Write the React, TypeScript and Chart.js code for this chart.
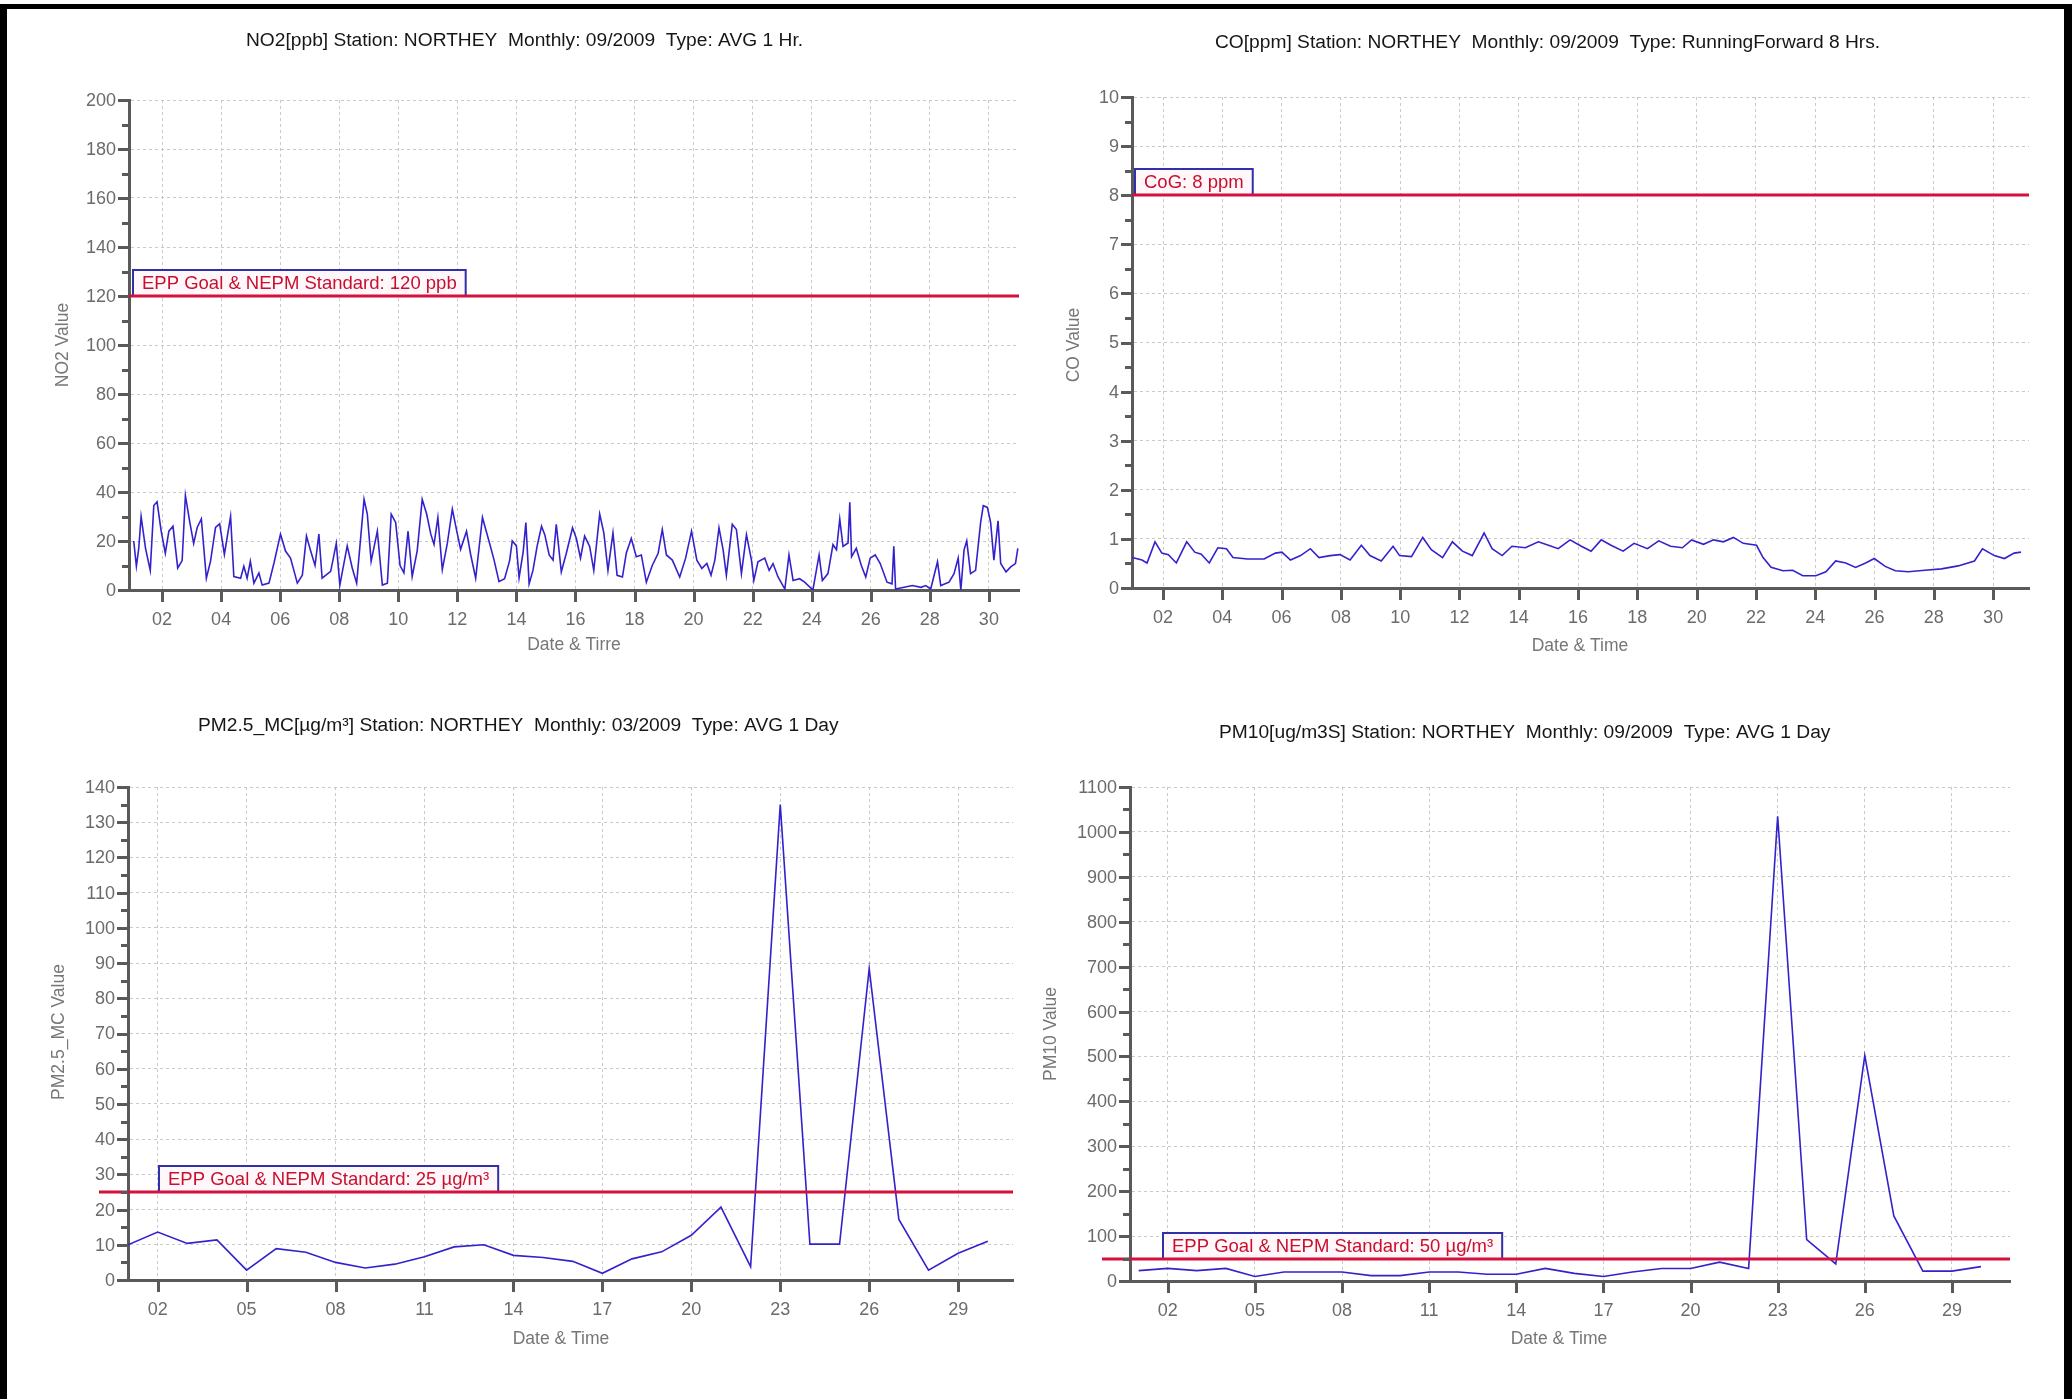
import React, { useEffect, useRef } from "react";
import { Chart, registerables } from "chart.js";

Chart.register(...registerables);

const W = 2072;
const H = 1399;

// ---------------- DATA ----------------
// NO2 hourly-ish trace, [day of month, ppb]
const no2Series: [number, number][] = [
  [1.04, 20], [1.13, 9.7], [1.21, 17], [1.29, 30], [1.44, 17], [1.6, 8], [1.72, 34.5], [1.83, 36], [1.97, 24],
  [2.11, 15], [2.23, 24], [2.37, 26], [2.53, 9], [2.68, 12], [2.79, 38.6], [2.94, 27.6], [3.07, 19], [3.19, 25.5],
  [3.33, 29], [3.5, 4.8], [3.64, 11.7], [3.81, 25.5], [3.95, 27], [4.11, 14.5], [4.32, 30], [4.43, 5.5], [4.66, 4.8],
  [4.77, 9.7], [4.88, 4.8], [4.99, 11.7], [5.11, 2.8], [5.28, 6.9], [5.39, 2], [5.62, 2.8], [5.79, 11], [6.01, 22.8],
  [6.18, 15.9], [6.35, 13], [6.58, 2.8], [6.75, 6], [6.89, 22], [7.03, 16], [7.18, 10], [7.31, 22.8], [7.42, 4.8],
  [7.71, 7.6], [7.9, 19], [8.02, 2], [8.27, 18], [8.44, 9], [8.59, 2.8], [8.84, 37], [8.95, 31], [9.08, 11.7],
  [9.29, 24], [9.46, 2], [9.63, 2.8], [9.76, 31], [9.91, 27.6], [10.06, 10], [10.19, 7], [10.33, 24], [10.47, 5.5],
  [10.64, 16], [10.81, 37], [10.96, 31], [11.1, 22.8], [11.21, 18.6], [11.34, 29.6], [11.49, 8.3], [11.66, 19],
  [11.83, 33], [11.98, 24], [12.11, 16.6], [12.31, 24], [12.45, 14.5], [12.62, 4.8], [12.85, 29.6], [13.07, 20],
  [13.24, 12.4], [13.41, 3.4], [13.6, 4.6], [13.77, 12], [13.86, 20], [14.0, 18], [14.09, 5], [14.23, 15.7],
  [14.32, 27.5], [14.43, 2.5], [14.56, 8], [14.7, 17.8], [14.85, 26], [14.96, 22.6], [15.11, 14.3], [15.24, 12.2],
  [15.35, 26.8], [15.52, 7.4], [15.69, 15], [15.9, 25.4], [16.03, 21], [16.17, 13], [16.31, 22], [16.48, 17.8],
  [16.62, 8], [16.82, 31], [16.96, 23.3], [17.1, 8], [17.27, 23.3], [17.41, 6], [17.59, 5.3], [17.72, 15],
  [17.89, 21], [18.06, 13.6], [18.23, 14.3], [18.4, 3.2], [18.6, 10], [18.8, 15], [18.94, 24.7], [19.08, 14.3],
  [19.28, 12.2], [19.53, 5.3], [19.73, 13], [19.93, 24], [20.11, 12.2], [20.28, 8.8], [20.45, 10.8], [20.59, 6],
  [20.72, 12.2], [20.86, 25.4], [21.0, 16.4], [21.11, 6], [21.31, 26.8], [21.45, 24.7], [21.62, 6.7], [21.79, 22.6],
  [21.96, 12.2], [22.04, 3.9], [22.18, 11.5], [22.41, 13], [22.56, 8], [22.69, 10.8], [22.86, 5.3], [23.09, 0.4],
  [23.23, 14.3], [23.37, 3.9], [23.59, 4.6], [23.76, 3.2], [24.04, 0], [24.25, 14.3], [24.36, 3.9], [24.55, 6.7],
  [24.72, 18.5], [24.84, 16.4], [24.95, 28.9], [25.06, 17.8], [25.23, 19.2], [25.29, 35.8], [25.35, 13.6],
  [25.51, 17], [25.68, 10], [25.83, 5.3], [25.98, 13], [26.15, 14.3], [26.32, 10.8], [26.55, 3.2], [26.72, 2.5],
  [26.78, 17.8], [26.84, 0.4], [27.13, 1.1], [27.41, 1.8], [27.7, 1.1], [27.86, 1.8], [28.03, 0.4], [28.26, 11.5],
  [28.37, 1.8], [28.65, 3.2], [28.82, 6.7], [28.96, 13], [29.05, 0], [29.16, 16.4], [29.25, 20], [29.38, 6.7],
  [29.55, 8], [29.72, 27.5], [29.81, 34.4], [29.95, 33.7], [30.06, 27.5], [30.17, 12.2], [30.31, 28.2], [30.4, 10.8],
  [30.58, 7.4], [30.74, 9.4], [30.9, 10.8], [30.98, 17],
];

// CO running 8 hr trace, [day of month, ppm]
const coSeries: [number, number][] = [
  [0.96, 0.62], [1.29, 0.57], [1.46, 0.51], [1.73, 0.94], [1.96, 0.71], [2.18, 0.68], [2.45, 0.51], [2.8, 0.94],
  [3.07, 0.73], [3.29, 0.69], [3.56, 0.51], [3.85, 0.82], [4.14, 0.8], [4.36, 0.62], [4.85, 0.59], [5.41, 0.59],
  [5.79, 0.71], [6.01, 0.73], [6.3, 0.57], [6.64, 0.66], [6.97, 0.8], [7.26, 0.62], [7.64, 0.66], [7.97, 0.68],
  [8.31, 0.57], [8.69, 0.87], [8.98, 0.66], [9.36, 0.55], [9.76, 0.85], [9.98, 0.66], [10.38, 0.64], [10.76, 1.03],
  [11.05, 0.78], [11.43, 0.62], [11.76, 0.94], [12.1, 0.75], [12.43, 0.66], [12.83, 1.12], [13.1, 0.8], [13.44, 0.66],
  [13.77, 0.85], [14.22, 0.82], [14.66, 0.94], [15.0, 0.87], [15.33, 0.8], [15.73, 0.98], [16.11, 0.85], [16.44, 0.75],
  [16.78, 0.98], [17.11, 0.87], [17.52, 0.75], [17.89, 0.91], [18.34, 0.8], [18.72, 0.96], [19.12, 0.85],
  [19.52, 0.82], [19.83, 0.98], [20.23, 0.89], [20.57, 0.98], [20.9, 0.94], [21.24, 1.03], [21.57, 0.91],
  [22.02, 0.87], [22.24, 0.62], [22.51, 0.42], [22.91, 0.35], [23.24, 0.36], [23.58, 0.25], [24.02, 0.25],
  [24.36, 0.33], [24.69, 0.55], [25.03, 0.51], [25.36, 0.42], [25.7, 0.51], [25.99, 0.6], [26.36, 0.44], [26.7, 0.35],
  [27.14, 0.33], [27.7, 0.36], [28.26, 0.39], [28.82, 0.45], [29.37, 0.55], [29.64, 0.8], [30.04, 0.66],
  [30.38, 0.6], [30.71, 0.71], [30.94, 0.73],
];

// Daily series
const pmDays = [1, 2, 3, 4, 5, 6, 7, 8, 9, 10, 11, 12, 13, 14, 15, 16, 17, 18, 19, 20, 21, 22, 23, 24, 25, 26, 27, 28, 29, 30];
const pm25Values = [10, 13.6, 10.4, 11.4, 2.8, 8.9, 7.9, 5, 3.4, 4.5, 6.6, 9.4, 10, 7, 6.4, 5.3, 1.9, 6, 8, 12.7, 20.7, 3.8, 135, 10.2, 10.2, 88.4, 17.2, 2.8, 7.6, 11];
const pm10Values = [23, 28, 23, 28, 10, 20, 20, 20, 12, 12, 20, 20, 15, 15, 28, 17, 10, 20, 28, 28, 42, 28, 1035, 92, 38, 502, 145, 22, 22, 32];

// Ticks
const xTicksEven = [2, 4, 6, 8, 10, 12, 14, 16, 18, 20, 22, 24, 26, 28, 30];
const xTicksEvery3 = [2, 5, 8, 11, 14, 17, 20, 23, 26, 29];
const no2YTicks = [0, 20, 40, 60, 80, 100, 120, 140, 160, 180, 200];
const coYTicks = [0, 1, 2, 3, 4, 5, 6, 7, 8, 9, 10];
const pm25YTicks = [0, 10, 20, 30, 40, 50, 60, 70, 80, 90, 100, 110, 120, 130, 140];
const pm10YTicks = [0, 100, 200, 300, 400, 500, 600, 700, 800, 900, 1000, 1100];

// Standards
const no2Limit = 120;
const coLimit = 8;
const pm25Limit = 25;
const pm10Limit = 50;

// ---------------- STYLE ----------------
const FONT = "'Liberation Sans', Arial, sans-serif";
const AXIS = "#5a5a5a";
const GRID = "#c9c9c9";
const LINE = "#3322cc";
const RED = "#d4103c";
const RED_TEXT = "#c8102e";
const BOX = "#3030a8";

type Panel = {
  key: string;
  title: string; titleX: number; titleY: number;
  yTitle: string; yTitleX: number; yTitleY: number;
  xTitle: string; xTitleX: number; xTitleY: number;
  area: { l: number; t: number; r: number; b: number };
  xMin: number; xMax: number; yMin: number; yMax: number;
  xTicks: number[]; yTicks: number[]; yMinor: number;
  points: { x: number; y: number }[];
  limit: number; limitLabel: string; boxLeft: number; lineLeft?: number;
};

const panels: Panel[] = [
  {
    key: "no2",
    title: "NO2[ppb] Station: NORTHEY  Monthly: 09/2009  Type: AVG 1 Hr.", titleX: 246, titleY: 41,
    yTitle: "NO2 Value", yTitleX: 63, yTitleY: 345,
    xTitle: "Date & Tirre", xTitleX: 574, xTitleY: 645,
    area: { l: 129, t: 100, r: 1019, b: 590 },
    xMin: 0.88, xMax: 31.02, yMin: 0, yMax: 200,
    xTicks: xTicksEven, yTicks: no2YTicks, yMinor: 10,
    points: no2Series.map(([x, y]) => ({ x, y })),
    limit: no2Limit, limitLabel: "EPP Goal & NEPM Standard: 120 ppb", boxLeft: 132,
  },
  {
    key: "co",
    title: "CO[ppm] Station: NORTHEY  Monthly: 09/2009  Type: RunningForward 8 Hrs.", titleX: 1215, titleY: 43,
    yTitle: "CO Value", yTitleX: 1074, yTitleY: 345,
    xTitle: "Date & Time", xTitleX: 1580, xTitleY: 646,
    area: { l: 1132, t: 97, r: 2029, b: 588 },
    xMin: 0.954, xMax: 31.21, yMin: 0, yMax: 10,
    xTicks: xTicksEven, yTicks: coYTicks, yMinor: 0.5,
    points: coSeries.map(([x, y]) => ({ x, y })),
    limit: coLimit, limitLabel: "CoG: 8 ppm", boxLeft: 1134,
  },
  {
    key: "pm25",
    title: "PM2.5_MC[µg/m³] Station: NORTHEY  Monthly: 03/2009  Type: AVG 1 Day", titleX: 198, titleY: 726,
    yTitle: "PM2.5_MC Value", yTitleX: 59, yTitleY: 1032,
    xTitle: "Date & Time", xTitleX: 561, xTitleY: 1339,
    area: { l: 128, t: 787, r: 1013, b: 1280 },
    xMin: 1.0, xMax: 30.85, yMin: 0, yMax: 140,
    xTicks: xTicksEvery3, yTicks: pm25YTicks, yMinor: 5,
    points: pmDays.map((d, i) => ({ x: d, y: pm25Values[i] })),
    limit: pm25Limit, limitLabel: "EPP Goal & NEPM Standard: 25 µg/m³", boxLeft: 158, lineLeft: 99,
  },
  {
    key: "pm10",
    title: "PM10[ug/m3S] Station: NORTHEY  Monthly: 09/2009  Type: AVG 1 Day", titleX: 1219, titleY: 733,
    yTitle: "PM10 Value", yTitleX: 1051, yTitleY: 1034,
    xTitle: "Date & Time", xTitleX: 1559, xTitleY: 1339,
    area: { l: 1130, t: 787, r: 2010, b: 1281 },
    xMin: 0.7, xMax: 31.0, yMin: 0, yMax: 1100,
    xTicks: xTicksEvery3, yTicks: pm10YTicks, yMinor: 50,
    points: pmDays.map((d, i) => ({ x: d, y: pm10Values[i] })),
    limit: pm10Limit, limitLabel: "EPP Goal & NEPM Standard: 50 µg/m³", boxLeft: 1162, lineLeft: 1102,
  },
];

function makePlugin(p: Panel) {
  return {
    id: "panel_" + p.key,
    afterDatasetsDraw(chart: any) {
      const ctx: CanvasRenderingContext2D = chart.ctx;
      const ys = chart.scales.y;
      const a = chart.chartArea;
      const ly = Math.round(ys.getPixelForValue(p.limit));
      ctx.save();
      ctx.font = `18.5px ${FONT}`;
      const tw = ctx.measureText(p.limitLabel).width;
      const bh = 27;
      const bw = tw + 20;
      const bx = p.boxLeft;
      const by = ly - bh;
      ctx.fillStyle = "#fff7fa";
      ctx.fillRect(bx, by, bw, bh);
      ctx.strokeStyle = BOX;
      ctx.lineWidth = 2;
      ctx.strokeRect(bx + 1, by + 1, bw - 2, bh - 1);
      ctx.fillStyle = RED_TEXT;
      ctx.textAlign = "left";
      ctx.textBaseline = "middle";
      ctx.fillText(p.limitLabel, bx + 10, by + bh / 2 + 1);
      ctx.strokeStyle = RED;
      ctx.lineWidth = 3;
      ctx.beginPath();
      ctx.moveTo(p.lineLeft ?? a.left, ly);
      ctx.lineTo(a.right, ly);
      ctx.stroke();
      ctx.restore();
    },
    afterDraw(chart: any) {
      const ctx: CanvasRenderingContext2D = chart.ctx;
      const xs = chart.scales.x;
      const ys = chart.scales.y;
      const a = chart.chartArea;
      ctx.save();
      // y ticks (major + minor)
      ctx.strokeStyle = AXIS;
      ctx.lineWidth = 3;
      const nMinor = Math.round((p.yMax - p.yMin) / p.yMinor);
      for (let i = 0; i <= nMinor; i++) {
        const v = p.yMin + i * p.yMinor;
        const major = p.yTicks.some((t) => Math.abs(t - v) < 1e-9);
        const y = Math.round(ys.getPixelForValue(v)) + 0.5;
        ctx.beginPath();
        ctx.moveTo(a.left - (major ? 11 : 7), y);
        ctx.lineTo(a.left, y);
        ctx.stroke();
      }
      // x ticks
      for (const v of p.xTicks) {
        const x = Math.round(xs.getPixelForValue(v)) + 0.5;
        ctx.beginPath();
        ctx.moveTo(x, a.bottom);
        ctx.lineTo(x, a.bottom + 12);
        ctx.stroke();
      }
      // tick labels
      ctx.fillStyle = "#6b6b6b";
      ctx.font = `18px ${FONT}`;
      ctx.textBaseline = "middle";
      ctx.textAlign = "right";
      for (const v of p.yTicks) {
        ctx.fillText(String(v), a.left - 13, ys.getPixelForValue(v) + 1);
      }
      ctx.textAlign = "center";
      for (const v of p.xTicks) {
        ctx.fillText(String(v).padStart(2, "0"), xs.getPixelForValue(v), a.bottom + 30);
      }
      // axis titles
      ctx.fillStyle = "#777777";
      ctx.font = `17.5px ${FONT}`;
      ctx.fillText(p.xTitle, p.xTitleX, p.xTitleY);
      ctx.save();
      ctx.translate(p.yTitleX, p.yTitleY);
      ctx.rotate(-Math.PI / 2);
      ctx.fillText(p.yTitle, 0, 0);
      ctx.restore();
      // chart title
      ctx.fillStyle = "#161616";
      ctx.font = `19.2px ${FONT}`;
      ctx.textAlign = "left";
      ctx.fillText(p.title, p.titleX, p.titleY);
      ctx.restore();
    },
  };
}

function PanelChart({ panel }: { panel: Panel }) {
  const ref = useRef<HTMLCanvasElement | null>(null);
  useEffect(() => {
    const canvas = ref.current;
    if (!canvas) return;
    const p = panel;
    const chart = new Chart(canvas, {
      type: "line",
      data: {
        datasets: [
          {
            data: p.points,
            borderColor: LINE,
            borderWidth: 1.6,
            pointRadius: 0,
            tension: 0,
            fill: false,
          },
        ],
      },
      options: {
        animation: false,
        responsive: false,
        devicePixelRatio: 1,
        events: [],
        layout: {
          autoPadding: false,
          padding: { left: p.area.l, top: p.area.t, right: W - p.area.r, bottom: H - p.area.b },
        },
        plugins: { legend: { display: false }, title: { display: false }, tooltip: { enabled: false } },
        scales: {
          x: {
            type: "linear",
            min: p.xMin,
            max: p.xMax,
            afterBuildTicks: (s: any) => {
              s.ticks = p.xTicks.map((v) => ({ value: v }));
            },
            afterFit: (s: any) => {
              s.height = 0;
            },
            ticks: { display: false },
            grid: { color: GRID, lineWidth: 1, drawTicks: false },
            border: { color: AXIS, width: 3, dash: [3, 3] },
          },
          y: {
            type: "linear",
            min: p.yMin,
            max: p.yMax,
            afterBuildTicks: (s: any) => {
              s.ticks = p.yTicks.map((v) => ({ value: v }));
            },
            afterFit: (s: any) => {
              s.width = 0;
            },
            ticks: { display: false },
            grid: { color: GRID, lineWidth: 1, drawTicks: false },
            border: { color: AXIS, width: 3, dash: [3, 3] },
          },
        },
      } as any,
      plugins: [makePlugin(p)],
    });
    return () => chart.destroy();
  }, [panel]);
  return (
    <canvas
      ref={ref}
      width={W}
      height={H}
      style={{ position: "absolute", left: 0, top: 0, width: W, height: H }}
    />
  );
}

export default function App() {
  return (
    <div style={{ position: "absolute", left: 0, top: 0, width: W, height: H, background: "#ffffff", overflow: "hidden" }}>
      {panels.map((p) => (
        <PanelChart key={p.key} panel={p} />
      ))}
      <div style={{ position: "absolute", left: 0, top: 4, width: W, height: 5, background: "#000" }} />
      <div style={{ position: "absolute", left: 0, top: 4, width: 7, height: H - 4, background: "#000" }} />
      <div style={{ position: "absolute", left: W - 8, top: 4, width: 8, height: H - 4, background: "#000" }} />
    </div>
  );
}
